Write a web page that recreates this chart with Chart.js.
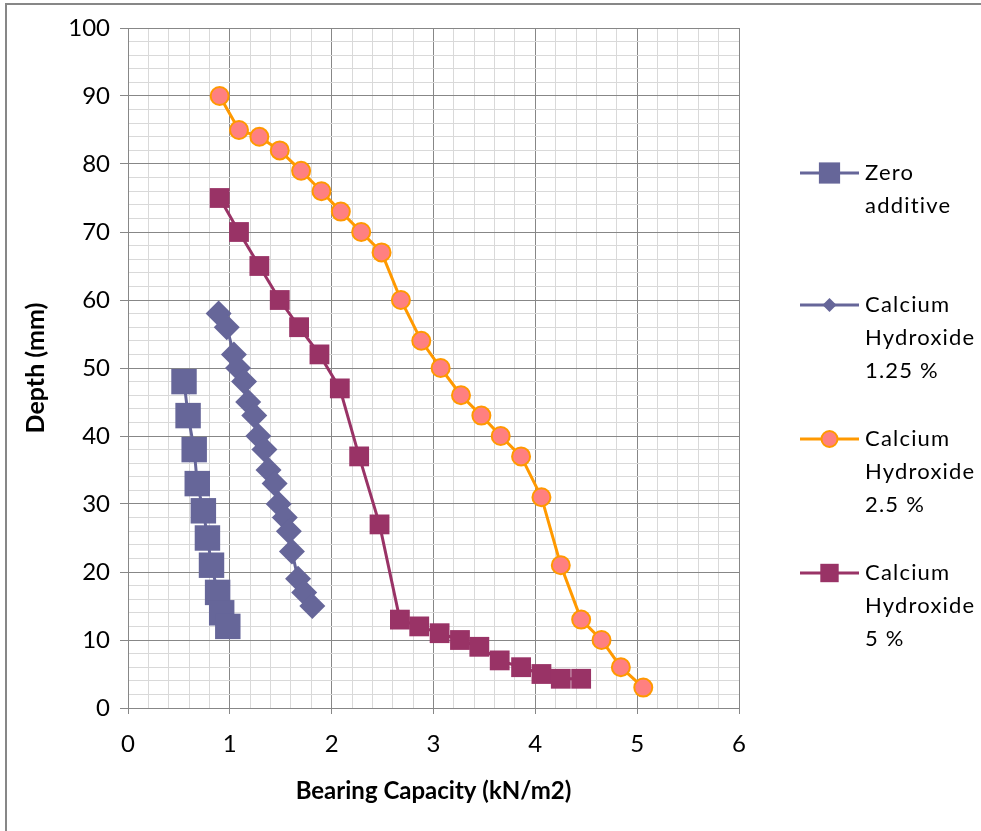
<!DOCTYPE html>
<html>
<head>
<meta charset="utf-8">
<script src="https://cdn.jsdelivr.net/npm/chart.js@4.4.1/dist/chart.umd.min.js"></script>
<style>
  body { margin: 0; background: #fff; }
  #wrap { position: relative; width: 981px; height: 831px; }
  #frame { position: absolute; left: 5px; top: 3px; right: 0; bottom: 0;
           border-left: 2px solid #878787; border-top: 2px solid #878787; pointer-events: none; }
  canvas { position: absolute; left: 0; top: 0; }
</style>
</head>
<body>
<div id="wrap">
  <canvas id="chart" width="981" height="831"></canvas>
  <div id="frame"></div>
</div>
<script>
// Valeurs (x = capacité, y = profondeur)
const zeroX = [0.55, 0.59, 0.65, 0.68, 0.74, 0.78, 0.82, 0.88, 0.92, 0.98];
const zeroY = [48, 43, 38, 33, 29, 25, 21, 17, 14, 12];

const ca125X = [0.89, 0.97, 1.04, 1.08, 1.14, 1.18, 1.24, 1.28, 1.34, 1.38, 1.44, 1.48, 1.54, 1.58, 1.61, 1.67, 1.73, 1.81];
const ca125Y = [58, 56, 52, 50, 48, 45, 43, 40, 38, 35, 33, 30, 28, 26, 23, 19, 17, 15];

const ca25X = [0.9, 1.09, 1.29, 1.49, 1.7, 1.9, 2.09, 2.29, 2.49, 2.68, 2.88, 3.07, 3.27, 3.47, 3.66, 3.86, 4.06, 4.25, 4.45, 4.65, 4.84, 5.06];
const ca25Y = [90, 85, 84, 82, 79, 76, 73, 70, 67, 60, 54, 50, 46, 43, 40, 37, 31, 21, 13, 10, 6, 3];

const ca5X = [0.9, 1.09, 1.29, 1.49, 1.68, 1.88, 2.08, 2.27, 2.47, 2.67, 2.86, 3.06, 3.26, 3.45, 3.65, 3.86, 4.06, 4.25, 4.45];
const ca5Y = [75, 70, 65, 60, 56, 52, 47, 37, 27, 13, 12, 11, 10, 9, 7, 6, 5, 4.3, 4.3];

const legendLines = [
  ['Zero', 'additive'],
  ['Calcium', 'Hydroxide', '1.25 %'],
  ['Calcium', 'Hydroxide', '2.5 %'],
  ['Calcium', 'Hydroxide', '5 %']
];

const FONT = 'Lato, "Open Sans", sans-serif';
const toPoints = (xs, ys) => xs.map((x, i) => ({ x, y: ys[i] }));
const isMajor = (v, step) => Math.abs(v / step - Math.round(v / step)) < 1e-6;

function series(i, xs, ys, style) {
  return Object.assign({
    label: legendLines[i].join(' '),
    data: toPoints(xs, ys),
    showLine: true,
    order: 10 - i
  }, style);
}

const datasets = [
  series(0, zeroX, zeroY, { borderColor: '#666699', backgroundColor: '#666699', borderWidth: 3,
    pointStyle: 'rect', pointRadius: 18, pointBorderWidth: 0, legendRadius: 15 }),
  series(1, ca125X, ca125Y, { borderColor: '#666699', backgroundColor: '#666699', borderWidth: 3,
    pointStyle: 'rectRot', pointRadius: 13, pointBorderWidth: 0, legendRadius: 7 }),
  series(2, ca25X, ca25Y, { borderColor: '#FF9900', backgroundColor: '#FF8080', borderWidth: 3,
    pointStyle: 'circle', pointRadius: 9, pointBorderWidth: 2, pointBorderColor: '#FF9900', legendRadius: 8 }),
  series(3, ca5X, ca5Y, { borderColor: '#993366', backgroundColor: '#993366', borderWidth: 3,
    pointStyle: 'rect', pointRadius: 14, pointBorderWidth: 0, legendRadius: 13 })
];

// légende dessinée à la main (libellés sur plusieurs lignes)
const sideLegend = {
  id: 'sideLegend',
  afterDraw(chart) {
    const ctx = chart.ctx;
    const tops = [173, 305, 439, 573];
    const lineH = 33;
    ctx.save();
    chart.data.datasets.forEach((ds, i) => {
      const y = tops[i];
      ctx.strokeStyle = ds.borderColor;
      ctx.lineWidth = 3;
      ctx.beginPath();
      ctx.moveTo(800, y);
      ctx.lineTo(859, y);
      ctx.stroke();
      ctx.fillStyle = ds.backgroundColor;
      ctx.strokeStyle = ds.pointBorderColor || ds.borderColor;
      ctx.lineWidth = ds.pointBorderWidth;
      Chart.helpers.drawPoint(ctx, {
        pointStyle: ds.pointStyle, radius: ds.legendRadius, rotation: 0, borderWidth: ds.pointBorderWidth
      }, 829.5, y);
      ctx.fillStyle = '#000';
      ctx.font = '22px ' + FONT;
      ctx.letterSpacing = '1.2px';
      ctx.textBaseline = 'middle';
      ctx.textAlign = 'left';
      legendLines[i].forEach((t, k) => ctx.fillText(t, 865, y + k * lineH));
    });
    ctx.restore();
  }
};

new Chart(document.getElementById('chart'), {
  type: 'scatter',
  data: { datasets },
  options: {
    responsive: false,
    animation: false,
    layout: { padding: { left: 0, top: 28, right: 242, bottom: 0 } },
    plugins: { legend: { display: false }, tooltip: { enabled: false } },
    scales: {
      x: {
        type: 'linear', min: 0, max: 6,
        afterFit: s => { s.height = 123; },
        ticks: {
          stepSize: 0.2, autoSkip: false, maxRotation: 0, padding: 16,
          color: '#000', font: { family: FONT, size: 24 },
          callback: v => isMajor(v, 1) ? Math.round(v) : ''
        },
        grid: {
          color: c => isMajor(c.tick.value, 1) ? '#878787' : '#d9d9d9',
          tickColor: c => isMajor(c.tick.value, 1) ? '#878787' : 'rgba(0,0,0,0)',
          tickLength: 6, lineWidth: 1
        },
        border: { color: '#878787', width: 1 },
        title: {
          display: true, text: 'Bearing Capacity (kN/m2)', color: '#000',
          font: { family: FONT, size: 24, weight: 'bold' }, padding: { top: 0, bottom: 25 }
        }
      },
      y: {
        type: 'linear', min: 0, max: 100,
        afterFit: s => { s.width = 128; },
        ticks: {
          stepSize: 2, autoSkip: false, padding: 10,
          color: '#000', font: { family: FONT, size: 24 },
          callback: v => isMajor(v, 10) ? Math.round(v) : ''
        },
        grid: {
          color: c => isMajor(c.tick.value, 10) ? '#878787' : '#d9d9d9',
          tickColor: c => isMajor(c.tick.value, 10) ? '#878787' : 'rgba(0,0,0,0)',
          tickLength: 8, lineWidth: 1
        },
        border: { color: '#878787', width: 1 },
        title: {
          display: true, text: 'Depth (mm)', color: '#000',
          font: { family: FONT, size: 25, weight: 'bold' }, padding: { top: 21, bottom: 0 }
        }
      }
    }
  },
  plugins: [sideLegend]
});
</script>
</body>
</html>
